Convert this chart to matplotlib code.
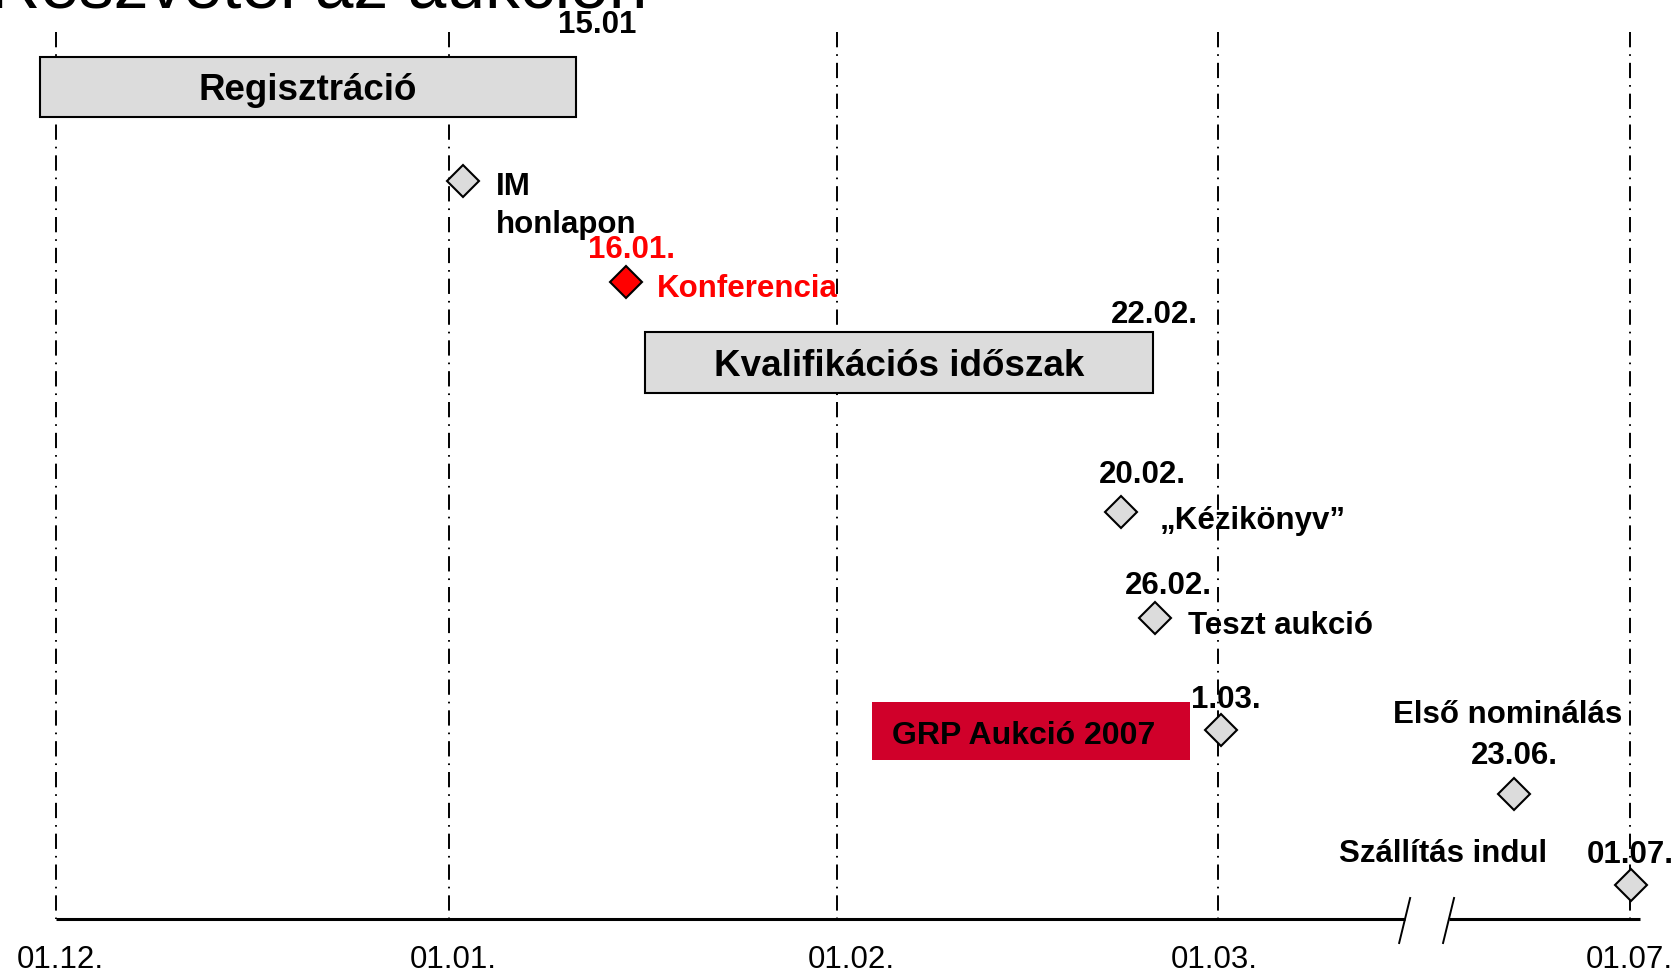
import matplotlib

matplotlib.use("Agg")
import matplotlib.pyplot as plt
from matplotlib.patches import Rectangle

plt.rcParams["font.family"] = ["Liberation Sans", "DejaVu Sans"]
plt.rcParams["lines.scale_dashes"] = False

# --- data (x in "month" units: 0 = 01.12., 1 = 01.01., ... ; axis is broken after March)
month_labels = ["01.12.", "01.01.", "01.02.", "01.03.", "01.07."]
month_pos = [0.0, 1.01, 2.01, 2.99, 4.05]

bar_labels = ["Regisztráció", "Kvalifikációs időszak"]
bar_start = [-0.042, 1.516]
bar_end = [1.337, 2.823]
bar_end_dates = ["15.01", "22.02."]

event_names = ["IM\nhonlapon", "Konferencia", "„Kézikönyv”", "Teszt aukció", "",
               "Első nominálás", "Szállítás indul"]
event_dates = ["", "16.01.", "20.02.", "26.02.", "1.03.", "23.06.", "01.07."]
event_pos = [1.047, 1.467, 2.741, 2.829, 2.998, 3.752, 4.053]
highlight = "Konferencia"

title = "Részvétel az aukción"
box_label = "GRP Aukció 2007"

# --- layout (y in pixel rows from the top, offsets in pixels)
W, H = 1680, 972
PX0, PXU = 56.1, 388.55          # pixel of x=0 and pixels per month
AXIS_Y = 919
bar_y = [87, 362.5]
bar_h = [60, 61]
bar_date_off = [(22, -35), (1, -20)]
event_y = [181, 282, 512, 618, 730, 794, 885]
date_off = [None, (5, -24), (21, -29), (13, -24), (5, -22), (0, -30), (-1, -22)]
name_off = [(33, 14), (31, 15), (39, 17), (33, 16), None, (-6, -71), (-188, -23)]
name_ha = ["left", "left", "left", "left", None, "center", "center"]
label_dx = [4, 5, 14, -4, 0]     # tick labels sit a little right of their lines

GRAY = "#DCDCDC"
RED = "#FF0000"
CRIMSON = "#D0002A"
FS = 22.5


def px(dx):
    return dx / PXU


def to_x(p):
    return (p - PX0) / PXU


fig = plt.figure(figsize=(W / 100, H / 100), dpi=100)
ax = fig.add_axes([0, 0, 1, 1])
ax.set_xlim(to_x(0), to_x(W))
ax.set_ylim(H, 0)
ax.axis("off")

# title, clipped by the top edge like in the slide
ax.text(to_x(-10), 7, title, fontsize=50, ha="left", va="baseline")

# month grid lines
ax.vlines(month_pos, 32, AXIS_Y, colors="black", linewidth=1.4,
          linestyles=[(0, (11, 5, 1.2, 5))], zorder=1)

# broken time axis
brk_a, brk_b = 3.472, 3.585
ax.plot([0, brk_a], [AXIS_Y, AXIS_Y], color="black", lw=2.2, solid_capstyle="butt")
ax.plot([brk_b, to_x(1640)], [AXIS_Y, AXIS_Y], color="black", lw=2.2, solid_capstyle="butt")
for b in (brk_a, brk_b):
    ax.plot([b + px(5), b - px(6)], [898, 943], color="black", lw=1.4)

for lab, p, dx in zip(month_labels, month_pos, label_dx):
    ax.text(p + px(dx), 968, lab, fontsize=FS, ha="center", va="baseline")

# bars
ax.barh(bar_y, [e - s for s, e in zip(bar_start, bar_end)], left=bar_start, height=bar_h,
        color=GRAY, edgecolor="black", linewidth=1.5, zorder=2)
for lab, s, e, y, h, d, (dx, dy) in zip(bar_labels, bar_start, bar_end, bar_y, bar_h,
                                        bar_end_dates, bar_date_off):
    ax.text((s + e) / 2, y + 13, lab, fontsize=26.5, fontweight="bold", ha="center",
            va="baseline", zorder=3)
    top = y - h / 2
    ax.text(e + px(dx), top + dy + 11, d, fontsize=FS, fontweight="bold",
            ha="center", va="baseline")

# GRP box
ax.add_patch(Rectangle((to_x(872), 702), px(318), 58, facecolor=CRIMSON,
                       edgecolor="none", zorder=2))
ax.text(to_x(1024), 744, box_label, fontsize=23, fontweight="bold", ha="center",
        va="baseline", color="black", zorder=3)

# events
for i, (x, y) in enumerate(zip(event_pos, event_y)):
    name = event_names[i]
    col = RED if name == highlight else "black"
    ax.plot([x], [y], marker="D", ms=16.8, mfc=RED if name == highlight else GRAY,
            mec="black", mew=1.5, zorder=4)
    if date_off[i] is not None:
        dx, dy = date_off[i]
        ax.text(x + px(dx), y + dy, event_dates[i], fontsize=FS, fontweight="bold",
                ha="center", va="baseline", color=col, zorder=5)
    if name_off[i] is not None:
        dx, dy = name_off[i]
        for k, line in enumerate(name.split("\n")):
            ax.text(x + px(dx), y + dy + 38 * k, line, fontsize=FS, fontweight="bold",
                    ha=name_ha[i], va="baseline", color=col, zorder=5)

fig.savefig("out.png", dpi=100)
